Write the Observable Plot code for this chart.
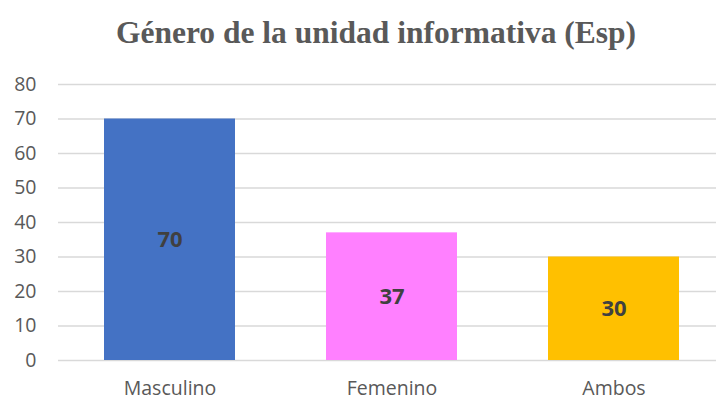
<!DOCTYPE html>
<html><head><meta charset="utf-8">
<script src="https://cdn.jsdelivr.net/npm/d3@7"></script>
<script src="https://cdn.jsdelivr.net/npm/@observablehq/plot@0.6"></script>
<style>
html,body{margin:0;padding:0;background:#fff;}
#wrap{width:716px;}
#title{height:70px;box-sizing:border-box;padding-top:15px;padding-left:36px;text-align:center;font-family:"Liberation Serif","Times New Roman",serif;font-weight:bold;font-size:31.5px;color:#595959;white-space:nowrap;}
svg{display:block;}
</style></head>
<body><div id="wrap"><div id="title">Género de la unidad informativa (Esp)</div><div id="chart"></div></div>
<script>
const categories = ["Masculino", "Femenino", "Ambos"];
const values = [70, 37, 30];
const colors = ["#4472C4", "#FF80FF", "#FFC000"];
const yTicks = [0, 10, 20, 30, 40, 50, 60, 70, 80];

const data = categories.map((c, i) => ({cat: c, value: values[i], color: colors[i]}));
const font = "'Open Sans', 'Noto Sans', sans-serif";

const chart = Plot.plot({
  width: 716,
  height: 331,
  marginLeft: 58,
  marginRight: 0,
  marginTop: 14,
  marginBottom: 41,
  style: {fontFamily: font, background: "#fff", overflow: "visible"},
  x: {domain: categories, range: [58, 725.5], paddingInner: 0.41, paddingOuter: 0.205, label: null},
  y: {domain: [0, 80], ticks: yTicks, label: null},
  marks: [
    Plot.ruleY(yTicks, {stroke: "#d9d9d9", strokeWidth: 1.5}),
    Plot.barY(data, {x: "cat", y: "value", fill: "color"}),
    Plot.text(data, {x: "cat", y: d => d.value / 2, text: d => String(d.value), fill: "#404040", fontWeight: "bold", fontSize: 22, fontFamily: font}),
    Plot.axisY({ticks: yTicks, tickSize: 0, tickPadding: 22, fontSize: 19.5, fill: "#595959"}),
    Plot.axisX({tickSize: 0, tickPadding: 21, fontSize: 19.5, fill: "#595959"})
  ]
});
document.getElementById("chart").appendChild(chart);
</script></body></html>
